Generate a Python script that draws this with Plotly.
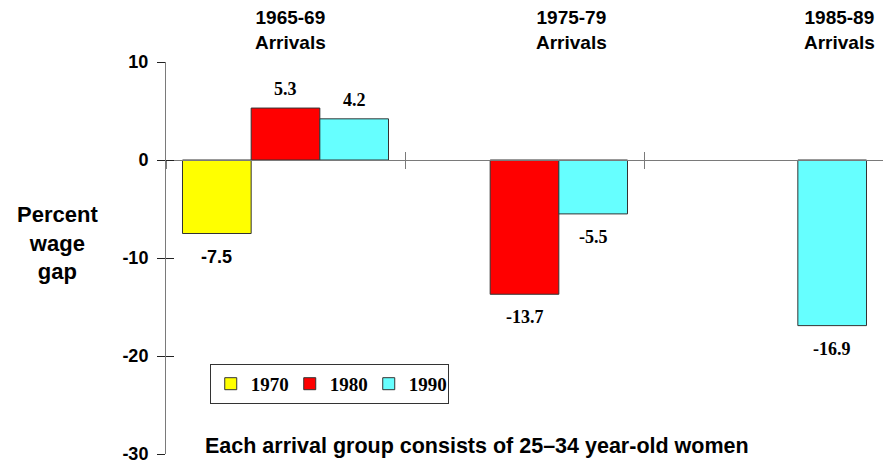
import plotly.graph_objects as go

# ---- data ----
arrival_groups = ["1965-69", "1975-79", "1985-89"]
census_years = ["1970", "1980", "1990"]
gap_1970 = [-7.5, None, None]
gap_1980 = [5.3, -13.7, None]
gap_1990 = [4.2, -5.5, -16.9]
y_ticks = [10, 0, -10, -20, -30]
y_tick_text = [str(t) for t in y_ticks]
y_title = "Percent<br>wage<br>gap"
footnote = "Each arrival group consists of 25\u201334 year-old women"

# ---- style ----
SANS = "Liberation Sans, Arial, sans-serif"
SERIF = "Liberation Serif, Times New Roman, serif"
COLORS = ["#FFFF00", "#FF0000", "#66FFFF"]
BARGAP = 0.138
YMIN, YMAX = -30, 10
ZERO_POS = (0 - YMIN) / (YMAX - YMIN)
AXIS_GRAY = "#7a7a7a"

series = [gap_1970, gap_1980, gap_1990]

fig = go.Figure()
for name, vals, col in zip(census_years, series, COLORS):
    fig.add_trace(go.Bar(
        x=arrival_groups, y=vals, name=name,
        marker=dict(color=col, line=dict(color="#333333", width=1)),
        hoverinfo="skip",
    ))

# invisible trace carrying the overlay axes (for crossing ticks)
fig.add_trace(go.Scatter(
    x=arrival_groups, y=[None] * len(arrival_groups),
    xaxis="x2", yaxis="y2", mode="none", showlegend=False, hoverinfo="skip",
))

# value labels
w = (1 - BARGAP) / len(series)
for i, vals in enumerate(series):
    for j, v in enumerate(vals):
        if v is None:
            continue
        fam = SANS if (i, j) == (0, 0) else SERIF
        fig.add_annotation(
            x=j + (i - 1) * w, y=v, xref="x", yref="y",
            text=f"{v:.1f}", showarrow=False,
            yshift=19 if v > 0 else -23,
            font=dict(family=fam, size=18, color="black", weight="bold"),
        )

# group headers
header_x = [0.173, 0.565, 0.939]
for hx, grp in zip(header_x, arrival_groups):
    fig.add_annotation(x=hx, y=1.082, xref="paper", yref="paper",
                       text=f"{grp}<br>Arrivals",
                       showarrow=False, xanchor="center", yanchor="middle",
                       font=dict(family=SANS, size=19, color="black", weight="bold"))

# y title
fig.add_annotation(x=-0.152, y=0.538, xref="paper", yref="paper", text=y_title,
                   showarrow=False, xanchor="center", yanchor="middle",
                   font=dict(family=SANS, size=22, color="black", weight="bold"))

# footnote
fig.add_annotation(x=0.434, y=0.02, xref="paper", yref="paper", text=footnote,
                   showarrow=False, xanchor="center", yanchor="middle",
                   font=dict(family=SANS, size=21.5, color="black", weight="bold"))

xcommon = dict(type="category", categoryarray=arrival_groups, categoryorder="array",
               range=[-0.5, len(arrival_groups) - 0.5], anchor="free", position=ZERO_POS,
               tickson="boundaries", ticklen=8, tickcolor=AXIS_GRAY, tickwidth=1,
               showticklabels=False, showgrid=False, zeroline=False)
ycommon = dict(range=[YMIN, YMAX], tickvals=y_ticks, ticktext=y_tick_text, ticklen=8,
               tickcolor="#222222", tickwidth=1, showgrid=False, zeroline=False)

fig.update_layout(
    width=883, height=463,
    margin=dict(l=166, r=0, t=62, b=9),
    plot_bgcolor="white", paper_bgcolor="white",
    barmode="group", bargap=BARGAP, bargroupgap=0,
    xaxis=dict(**xcommon, ticks="outside", showline=True, linecolor=AXIS_GRAY, linewidth=1),
    xaxis2=dict(**xcommon, ticks="inside", showline=False, overlaying="x"),
    yaxis=dict(**ycommon, ticks="outside", showline=True, linecolor=AXIS_GRAY, linewidth=1,
               ticklabelstandoff=5, ticklabeloverflow="allow",
               tickfont=dict(family=SANS, size=18, color="black", weight="bold")),
    yaxis2=dict(**ycommon, ticks="inside", showticklabels=False, showline=False,
                overlaying="y", anchor="x2"),
    legend=dict(orientation="h", x=0.061, y=0.23, xanchor="left", yanchor="top",
                bgcolor="white", bordercolor="#333333", borderwidth=1,
                entrywidth=34, entrywidthmode="pixels",
                font=dict(family=SERIF, size=19, color="black", weight="bold")),
    showlegend=True,
)

fig.write_html("out.html", config={"displayModeBar": False},
               post_script="document.body.style.margin='0';")
